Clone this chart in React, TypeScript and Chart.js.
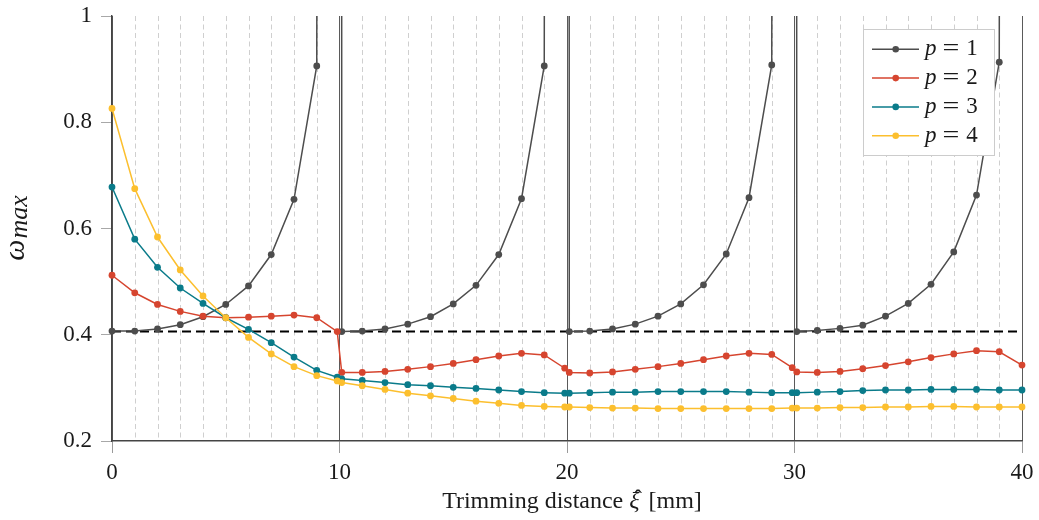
import React, { useEffect, useRef } from "react";
import { Chart, registerables } from "chart.js";

Chart.register(...registerables);

// ---- data ----
const X_POS = [
  0, 1, 2, 3, 4, 5, 6, 7, 8, 9, 9.9, 10.1,
  11, 12, 13, 14, 15, 16, 17, 18, 19, 19.9, 20.1,
  21, 22, 23, 24, 25, 26, 27, 28, 29, 29.9, 30.1,
  31, 32, 33, 34, 35, 36, 37, 38, 39, 39.9, 40,
];

const P1 = [
  0.407, 0.407, 0.411, 0.419, 0.434, 0.457, 0.492, 0.551, 0.655, 0.906, 30, 0.406,
  0.407, 0.411, 0.42, 0.434, 0.458, 0.493, 0.551, 0.656, 0.906, 30, 0.406,
  0.407, 0.411, 0.42, 0.435, 0.458, 0.494, 0.552, 0.658, 0.908, 30, 0.406,
  0.408, 0.412, 0.418, 0.435, 0.459, 0.495, 0.556, 0.663, 0.913, 30, null,
];

const P2 = [
  0.512, 0.479, 0.457, 0.444, 0.435, 0.432, 0.433, 0.435, 0.437, 0.432, 0.406, 0.329,
  0.329, 0.331, 0.335, 0.34, 0.346, 0.353, 0.36, 0.365, 0.362, 0.337, 0.329,
  0.328, 0.33, 0.335, 0.34, 0.346, 0.353, 0.36, 0.365, 0.363, 0.338, 0.33,
  0.329, 0.331, 0.336, 0.342, 0.349, 0.357, 0.364, 0.37, 0.368, null, 0.343,
];

const P3 = [
  0.678, 0.58, 0.527, 0.488, 0.459, 0.432, 0.41, 0.385, 0.358, 0.333, 0.32, 0.317,
  0.314, 0.31, 0.306, 0.304, 0.301, 0.299, 0.296, 0.293, 0.291, 0.29, 0.29,
  0.291, 0.292, 0.292, 0.293, 0.293, 0.293, 0.293, 0.292, 0.291, 0.291, 0.291,
  0.292, 0.293, 0.295, 0.296, 0.296, 0.297, 0.297, 0.297, 0.296, null, 0.296,
];

const P4 = [
  0.826, 0.675, 0.584, 0.522, 0.473, 0.432, 0.395, 0.364, 0.34, 0.323, 0.313, 0.31,
  0.304, 0.297, 0.29, 0.285, 0.28, 0.275, 0.271, 0.267, 0.265, 0.264, 0.264,
  0.263, 0.262, 0.262, 0.261, 0.261, 0.261, 0.261, 0.261, 0.261, 0.262, 0.262,
  0.262, 0.263, 0.263, 0.264, 0.264, 0.265, 0.265, 0.264, 0.264, null, 0.264,
];

const REF_LEVEL = 0.406;
const REF_SPAN = [0, 40];

const SERIES_LABELS = ["p = 1", "p = 2", "p = 3", "p = 4"];
const SERIES_COLORS = ["#4d4d4d", "#d6452f", "#0a7b8a", "#fcbf2e"];

const X_TICKS = [0, 10, 20, 30, 40];
const X_MINOR = [
  1, 2, 3, 4, 5, 6, 7, 8, 9, 11, 12, 13, 14, 15, 16, 17, 18, 19,
  21, 22, 23, 24, 25, 26, 27, 28, 29, 31, 32, 33, 34, 35, 36, 37, 38, 39,
];
const Y_TICKS = [0.2, 0.4, 0.6, 0.8, 1];

const X_TITLE = ["Trimming distance ", "ξ", " [mm]"];
const X_TITLE_ACCENT = "ˆ";
const Y_TITLE = ["ω", "max"];

const FONT = "'Liberation Serif', 'DejaVu Serif', serif";
const FS = 23;

const minorGridPlugin = {
  id: "minorGrid",
  beforeDatasetsDraw(chart: any) {
    const { ctx, chartArea, scales } = chart;
    const xs = scales.x;
    ctx.save();
    ctx.strokeStyle = "#cfcfcf";
    ctx.lineWidth = 1;
    ctx.setLineDash([5, 3.5]);
    for (const v of X_MINOR) {
      const px = Math.round(xs.getPixelForValue(v)) + 0.5;
      ctx.beginPath();
      ctx.moveTo(px, chartArea.top);
      ctx.lineTo(px, chartArea.bottom);
      ctx.stroke();
    }
    ctx.restore();
  },
};

const titlesPlugin = {
  id: "titles",
  afterDraw(chart: any) {
    const { ctx, chartArea } = chart;
    ctx.save();
    ctx.fillStyle = "#1a1a1a";
    ctx.textBaseline = "alphabetic";
    // x title
    const TS = 24;
    const fN = `${TS}px ${FONT}`;
    const fI = `italic ${TS}px ${FONT}`;
    ctx.font = fN;
    const w0 = ctx.measureText(X_TITLE[0]).width;
    const w2 = ctx.measureText(X_TITLE[2]).width;
    ctx.font = fI;
    const w1 = ctx.measureText(X_TITLE[1]).width + 3;
    const total = w0 + w1 + w2;
    let x = (chartArea.left + chartArea.right) / 2 + 5 - total / 2;
    const y = 508;
    ctx.textAlign = "left";
    ctx.font = fN;
    ctx.fillText(X_TITLE[0], x, y);
    x += w0;
    ctx.font = fI;
    ctx.fillText(X_TITLE[1], x, y);
    ctx.font = `${TS}px ${FONT}`;
    ctx.textAlign = "center";
    ctx.fillText(X_TITLE_ACCENT, x + w1 / 2 + 2, y - 2);
    ctx.textAlign = "left";
    x += w1;
    ctx.font = fN;
    ctx.fillText(X_TITLE[2], x, y);

    // y title (rotated)
    ctx.translate(24, (chartArea.top + chartArea.bottom) / 2);
    ctx.rotate(-Math.PI / 2);
    const fW = `italic 30px ${FONT}`;
    ctx.font = fW;
    const a = ctx.measureText(Y_TITLE[0]).width;
    const fS = `italic 26px ${FONT}`;
    ctx.font = fS;
    const b = ctx.measureText(Y_TITLE[1]).width;
    const sx = -(a + b) / 2;
    ctx.font = fW;
    ctx.fillText(Y_TITLE[0], sx, 0);
    ctx.font = fS;
    ctx.fillText(Y_TITLE[1], sx + a + 1, 3);
    ctx.restore();
  },
};

const legendPlugin = {
  id: "boxLegend",
  afterDraw(chart: any) {
    const { ctx } = chart;
    const bx = 863.5, by = 29.5, bw = 131, bh = 126;
    ctx.save();
    ctx.fillStyle = "#ffffff";
    ctx.fillRect(bx, by, bw, bh);
    ctx.strokeStyle = "#cccccc";
    ctx.lineWidth = 1;
    ctx.setLineDash([]);
    ctx.strokeRect(bx, by, bw, bh);
    SERIES_LABELS.forEach((lab, i) => {
      const cy = 49.3 + i * 28.8;
      const col = SERIES_COLORS[i];
      ctx.strokeStyle = col;
      ctx.lineWidth = 1.5;
      ctx.beginPath();
      ctx.moveTo(872, cy);
      ctx.lineTo(919, cy);
      ctx.stroke();
      ctx.fillStyle = col;
      ctx.beginPath();
      ctx.arc(895.7, cy, 3.3, 0, Math.PI * 2);
      ctx.fill();
      const parts = lab.split(" ");
      ctx.fillStyle = "#1a1a1a";
      ctx.textBaseline = "middle";
      ctx.textAlign = "left";
      let tx = 925;
      ctx.font = `italic ${FS}px ${FONT}`;
      ctx.fillText(parts[0], tx, cy);
      tx += ctx.measureText(parts[0]).width + 6;
      ctx.font = `${FS}px ${FONT}`;
      ctx.save();
      ctx.scale(1.3, 1);
      ctx.fillText(parts[1], tx / 1.3, cy);
      ctx.restore();
      tx += ctx.measureText(parts[1]).width * 1.3 + 7;
      ctx.fillText(parts[2], tx, cy);
    });
    ctx.restore();
  },
};

const toPoints = (vals: (number | null)[]) =>
  X_POS.map((x, i) => ({ x, y: vals[i] }));

export default function App() {
  const ref = useRef<HTMLCanvasElement | null>(null);

  useEffect(() => {
    if (!ref.current) return;
    const series = [P1, P2, P3, P4];
    const clip = { left: 6, top: 0, right: 6, bottom: 6 };
    const datasets: any[] = series.map((vals, i) => ({
      label: SERIES_LABELS[i],
      data: toPoints(vals),
      borderColor: SERIES_COLORS[i],
      backgroundColor: SERIES_COLORS[i],
      pointBackgroundColor: SERIES_COLORS[i],
      pointBorderWidth: 0,
      pointRadius: 3.4,
      borderWidth: 1.5,
      tension: 0,
      spanGaps: true,
      clip,
      order: 4 - i,
    }));
    datasets.push({
      label: "ref",
      data: REF_SPAN.map((x) => ({ x, y: REF_LEVEL })),
      borderColor: "#000000",
      borderWidth: 2,
      borderDash: [9, 5],
      pointRadius: 0,
      clip,
      order: 10,
    });

    const chart = new Chart(ref.current, {
      type: "line",
      data: { datasets },
      options: {
        animation: false,
        responsive: false,
        devicePixelRatio: 1,
        layout: { padding: { top: 16, right: 17, left: 0, bottom: 0 } },
        plugins: {
          legend: { display: false },
          tooltip: { enabled: false },
        },
        scales: {
          x: {
            type: "linear",
            min: 0,
            max: 40,
            afterBuildTicks: (s: any) => {
              s.ticks = X_TICKS.map((v) => ({ value: v }));
            },
            afterFit: (s: any) => {
              s.height = 79;
              s.paddingLeft = 0;
              s.paddingRight = 0;
              s.paddingTop = 0;
              s.paddingBottom = 0;
            },
            ticks: {
              color: "#1a1a1a",
              font: { family: FONT, size: FS },
              padding: 6,
              maxRotation: 0,
              callback: (v: any) => String(v),
            },
            grid: {
              color: "#5a5a5a",
              lineWidth: 1,
              tickLength: 12,
              tickColor: "#9a9a9a",
            },
            border: { color: "#444444", width: 1.4 },
          },
          y: {
            type: "linear",
            min: 0.2,
            max: 1,
            afterBuildTicks: (s: any) => {
              s.ticks = Y_TICKS.map((v) => ({ value: v }));
            },
            afterFit: (s: any) => {
              s.width = 112;
              s.paddingLeft = 0;
              s.paddingRight = 0;
              s.paddingTop = 0;
              s.paddingBottom = 0;
            },
            ticks: {
              color: "#1a1a1a",
              font: { family: FONT, size: FS },
              padding: 9,
              callback: (v: any) => (Number(v) === 1 ? "1" : Number(v).toFixed(1)),
            },
            grid: {
              drawOnChartArea: false,
              tickLength: 11,
              tickColor: "#a8a8a8",
            },
            border: { color: "#444444", width: 1.4 },
          },
        },
      },
      plugins: [minorGridPlugin, titlesPlugin, legendPlugin],
    });
    return () => chart.destroy();
  }, []);

  return (
    <div style={{ position: "fixed", left: 0, top: 0, width: 1039, height: 520, background: "#fff" }}>
      <canvas ref={ref} width={1039} height={520} style={{ width: 1039, height: 520, display: "block" }} />
    </div>
  );
}
